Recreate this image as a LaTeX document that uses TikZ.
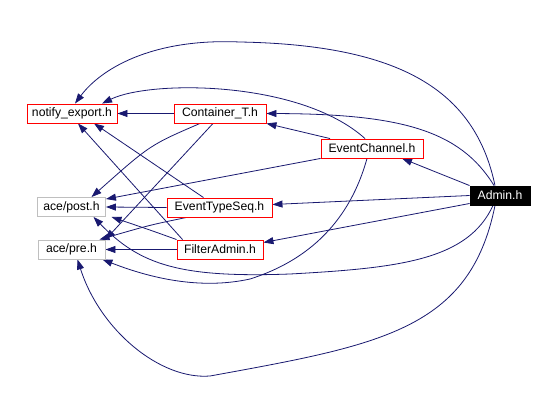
\documentclass[tikz,border=0pt]{standalone}
\usepackage{fontspec}
\setmainfont{Liberation Sans}
\usetikzlibrary{arrows.meta,backgrounds}
\definecolor{edgeblue}{HTML}{191970}
\definecolor{boxred}{HTML}{FF0000}
\definecolor{boxgray}{HTML}{BFBFBF}
\begin{document}
\begin{tikzpicture}[x=1pt,y=-1pt,
  every node/.style={font=\fontsize{12.2}{14}\selectfont},
  filebox/.style={rectangle, draw=boxred, line width=0.9pt, minimum height=19pt, inner sep=0pt, text=black, fill=white},
  sysbox/.style={rectangle, draw=boxgray, line width=0.9pt, minimum height=19pt, inner sep=0pt, text=black, fill=white},
  rootbox/.style={rectangle, draw=black, fill=black, line width=0.9pt, minimum height=19pt, inner sep=0pt, text=white},
  dep/.style={draw=edgeblue, line width=0.8pt, -{Triangle[length=10pt,width=7pt]}, fill=none},
]
\useasboundingbox (0,0) rectangle (553,414);

\node[filebox, minimum width=90pt] (ne) at (72,113.5) {notify\_export.h};
\node[filebox, minimum width=92pt] (ct) at (220,113.5) {Container\_T.h};
\node[filebox, minimum width=102pt] (ec) at (372,148.5) {EventChannel.h};
\node[rootbox, minimum width=60pt] (ad) at (500,195.5) {Admin.h};
\node[sysbox, minimum width=68pt] (po) at (71.5,207) {ace/post.h};
\node[filebox, minimum width=105pt] (ts) at (219.5,207.5) {EventTypeSeq.h};
\node[sysbox, minimum width=67pt] (pr) at (71.5,249.5) {ace/pre.h};
\node[filebox, minimum width=86pt] (fa) at (220,249.5) {FilterAdmin.h};

\begin{scope}[on background layer]
\fill[white] (0,0) rectangle (553,414);

% Container_T.h
\draw[dep] (ct.west) -- (ne.east);
\draw[dep] ([xshift=-20pt]ct.south) .. controls (150,145) .. ([xshift=20pt]po.north);
\draw[dep] ([xshift=-7pt]ct.south) -- (pr.north east);

% EventChannel.h
\draw[dep] ([xshift=-7pt]ec.north) .. controls (300,80) and (150,80) .. ([xshift=30pt]ne.north);
\draw[dep] ([xshift=-42pt]ec.north) -- (ct.south east);
\draw[dep] (ec.south west) -- ([yshift=-2pt]po.north east);
\draw[dep] ([xshift=-5pt]ec.south) .. controls (350,220) and (310,260) .. (250,279)
   .. controls (200,290) and (150,278) .. ([xshift=-3pt]pr.south east);

% EventTypeSeq.h
\draw[dep] (ts.west) -- (po.east);
\draw[dep] ([xshift=-16pt]ts.north) -- ([xshift=22pt]ne.south);
\draw[dep] ([xshift=20pt]ts.south west) .. controls (150,225) .. ([xshift=28pt]pr.north);

% FilterAdmin.h
\draw[dep] (fa.west) -- (pr.east);
\draw[dep] ([xshift=6pt]fa.north west) -- ([xshift=6pt]ne.south);
\draw[dep] (fa.north west) .. controls (150,230) .. ([xshift=40pt]po.south);

% Admin.h
\draw[dep] ([xshift=-5pt]ad.north) .. controls (475,90) and (400,45) .. (240,42)
   .. controls (150,38) and (100,70) .. ([xshift=3pt]ne.north);
\draw[dep] ([xshift=-6pt]ad.north) .. controls (460,130) and (400,114) .. (ct.east);
\draw[dep] (ad.north west) -- ([xshift=30pt]ec.south);
\draw[dep] (ad.west) -- ([yshift=3pt]ts.east);
\draw[dep] ([yshift=-8pt]ad.west) -- ([yshift=7pt]fa.east);
\draw[dep] ([xshift=-7pt]ad.south) .. controls (468,260) and (400,268) .. (290,274)
   .. controls (180,278) and (140,265) .. ([xshift=22pt]po.south);
\draw[dep] ([xshift=-5pt]ad.south) .. controls (470,330) and (380,345) .. (210,376)
   .. controls (160,380) and (100,330) .. ([xshift=6pt]pr.south);
\end{scope}
\end{tikzpicture}
\end{document}
